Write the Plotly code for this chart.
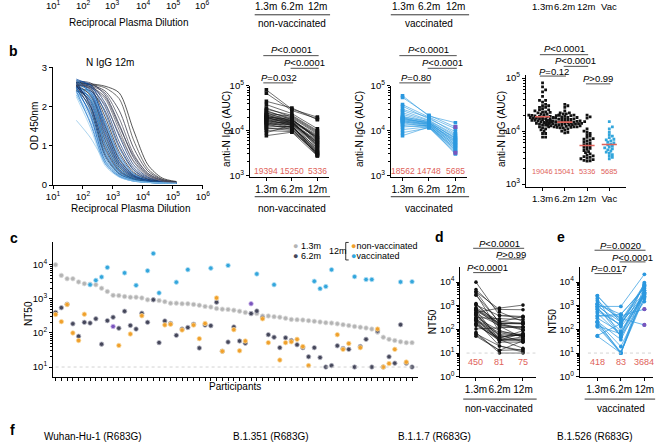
import numpy as np
import plotly.graph_objects as go

W, H = 668, 443
FONT = "Liberation Sans, Arial, sans-serif"
NARROW = "Liberation Sans Narrow, Arial Narrow, Liberation Sans, sans-serif"

# ----------------------------- DATA -----------------------------
# panel b (left): N IgG ELISA curves at 12 months
dilutions = [60, 180, 540, 1620, 4860, 14580, 43740, 131220]
od_curves = [
    [2.62, 2.58, 2.52, 2.35, 1.40, 0.52, 0.18, 0.09],
    [2.58, 2.56, 2.48, 2.20, 1.15, 0.42, 0.15, 0.08],
    [2.60, 2.55, 2.40, 1.90, 0.95, 0.36, 0.14, 0.08],
    [2.55, 2.52, 2.35, 1.70, 0.80, 0.30, 0.12, 0.07],
    [2.65, 2.60, 2.30, 1.55, 0.70, 0.26, 0.11, 0.07],
    [2.50, 2.48, 2.20, 1.40, 0.60, 0.22, 0.10, 0.06],
    [2.62, 2.55, 2.10, 1.25, 0.52, 0.20, 0.09, 0.06],
    [2.58, 2.50, 2.00, 1.10, 0.45, 0.18, 0.09, 0.06],
    [2.45, 2.40, 1.90, 1.00, 0.40, 0.16, 0.08, 0.06],
    [2.66, 2.55, 1.85, 0.95, 0.38, 0.15, 0.08, 0.05],
    [2.55, 2.45, 1.75, 0.85, 0.33, 0.14, 0.08, 0.05],
    [2.60, 2.42, 1.65, 0.78, 0.30, 0.13, 0.07, 0.05],
    [2.48, 2.35, 1.60, 0.72, 0.28, 0.12, 0.07, 0.05],
    [2.70, 2.50, 1.55, 0.68, 0.26, 0.12, 0.07, 0.05],
    [2.52, 2.30, 1.50, 0.65, 0.25, 0.11, 0.07, 0.05],
    [2.58, 2.38, 1.45, 0.60, 0.24, 0.11, 0.07, 0.05],
    [2.40, 2.25, 1.40, 0.58, 0.23, 0.11, 0.06, 0.05],
    [2.62, 2.35, 1.35, 0.55, 0.22, 0.10, 0.06, 0.05],
    [2.55, 2.28, 1.30, 0.52, 0.21, 0.10, 0.06, 0.05],
    [2.50, 2.20, 1.25, 0.50, 0.20, 0.10, 0.06, 0.05],
    [2.68, 2.30, 1.20, 0.48, 0.19, 0.09, 0.06, 0.05],
    [2.45, 2.15, 1.15, 0.45, 0.18, 0.09, 0.06, 0.05],
    [2.58, 2.20, 1.10, 0.42, 0.17, 0.09, 0.06, 0.05],
    [2.52, 2.10, 1.05, 0.40, 0.16, 0.08, 0.06, 0.05],
    [2.60, 2.15, 1.00, 0.38, 0.16, 0.08, 0.06, 0.05],
    [2.42, 2.00, 0.95, 0.36, 0.15, 0.08, 0.06, 0.05],
    [2.55, 2.05, 0.90, 0.34, 0.14, 0.08, 0.06, 0.05],
    [2.48, 1.95, 0.85, 0.32, 0.14, 0.08, 0.05, 0.05],
    [2.62, 2.00, 0.80, 0.30, 0.13, 0.08, 0.05, 0.05],
    [2.38, 1.85, 0.78, 0.30, 0.13, 0.07, 0.05, 0.05],
    [2.55, 1.90, 0.75, 0.28, 0.12, 0.07, 0.05, 0.05],
    [2.45, 1.80, 0.70, 0.27, 0.12, 0.07, 0.05, 0.05],
    [2.35, 1.70, 0.65, 0.25, 0.11, 0.07, 0.05, 0.05],
    [2.50, 1.75, 0.62, 0.24, 0.11, 0.07, 0.05, 0.05],
    [2.30, 1.60, 0.58, 0.22, 0.10, 0.07, 0.05, 0.05],
    [2.40, 1.55, 0.55, 0.21, 0.10, 0.07, 0.05, 0.05],
    [2.25, 1.45, 0.50, 0.20, 0.10, 0.06, 0.05, 0.05],
    [2.60, 2.45, 2.05, 1.30, 0.62, 0.25, 0.10, 0.06],
    [2.55, 2.50, 2.25, 1.50, 0.75, 0.30, 0.12, 0.07],
    [1.65, 1.20, 0.60, 0.25, 0.12, 0.07, 0.05, 0.05],
]

# panel b: anti-N IgG AUC, non-vaccinated (1.3m, 6.2m, 12m)
nv_auc_13m = [81000, 68000, 45000, 38000, 32000, 30000, 28000, 26500, 25000, 24000,
              23000, 22500, 22000, 21000, 20500, 20000, 19800, 19394, 19000, 18500,
              18000, 17500, 17000, 16500, 16000, 15500, 15000, 14500, 14000, 13500,
              13000, 12000, 11500, 11000, 10000, 9000, 7700]
nv_auc_62m = [30000, 28000, 32000, 24000, 20000, 22000, 17500, 19000, 16000, 21000,
              18500, 14800, 17000, 15800, 16800, 13500, 18000, 15250, 14500, 16500,
              12800, 15500, 13200, 14200, 12000, 15000, 11500, 13800, 10500, 14000,
              11800, 12500, 10000, 11000, 9500, 13000, 9200]
nv_auc_12m = [20000, 18500, 17500, 11000, 9000, 10000, 6500, 8500, 7600, 9500,
              6200, 5100, 7200, 4700, 8000, 3900, 6800, 5336, 5700, 4300,
              3300, 7000, 3000, 5500, 4100, 6000, 2900, 4500, 3400, 4900,
              3700, 3500, 3100, 2800, 3200, 2750, 2700]
# vaccinated
v_auc_13m = [60000, 55000, 38000, 35000, 30000, 28000, 25000, 23000, 21000, 20000,
             19500, 19000, 18562, 18000, 17500, 17000, 16500, 16000, 15500, 15000,
             14000, 13000, 12000, 10500, 9000, 7700]
v_auc_62m = [21000, 22000, 20000, 18000, 19500, 17000, 16500, 15500, 15000, 16000,
             14500, 14000, 14748, 13500, 15200, 13000, 14000, 12500, 13800, 12000,
             12800, 11800, 13200, 12200, 11500, 12000]
v_auc_12m = [15000, 12000, 11000, 9500, 8500, 8000, 7500, 7000, 6800, 6500,
             6200, 6000, 5685, 5500, 5200, 5000, 4800, 4600, 4400, 4200,
             4000, 3800, 3600, 3400, 3200, 3000]
v_auc_special = [1, 24]   # participants drawn in purple at 12m

# panel c/d/e: NT50 per participant (sorted by 1.3m NT50)
nt50_13m = [10000, 4900, 3900, 3900, 3150, 2800, 2700, 2600, 2050, 1650,
            1270, 1250, 1170, 1120, 1120, 1070, 940, 940, 890, 830,
            750, 750, 720, 720, 690, 650, 600, 575, 520, 500,
            490, 465, 435, 400, 372, 372, 315, 315, 300, 290,
            270, 250, 245, 240, 230, 220, 210, 200, 195, 185,
            175, 165, 155, 148, 140, 130, 105, 75, 65, 60,
            55, 52, 52]
nt50_62m = [400, 550, 700, 185, 80, 205, 195, 260, 47, 230,
            290, 138, 435, 166, 130, 380, 205, 940, 52, 225,
            190, 85, 130, 145, 180, 36, 170, 163, 800, 29,
            54, 150, 58, 50, 370, 440, 280, 89, 75, 37,
            72, 60, 45, 37, 20, 37, 19, 10, 11, 42,
            35, 33, 10, 40, 65, 10, 115, 10, 20, 13,
            175, 13, 10]
nt50_12m = [350, 215, 680, 100, 60, 355, 2600, 3500, 4400, 8400,
            155, 43, 5800, 93, 2500, 320, 6700, 21500, 1500, 172,
            180, 3100, 122, 7200, 170, 68, 190, 8000, 1070, 29,
            9600, 125, 30, 58, 720, 5400, 260, 52, 2600, 16,
            52, 55, 65, 40, 11, 3300, 2000, 2300, 7200, 89,
            33, 49, 4500, 37, 3700, 3700, 130, 10, 12.6, 33,
            3150, 14, 3200]
# N = non-vaccinated, V = vaccinated, P = vaccinated (purple)
vacc_status = ["N", "N", "N", "N", "N", "N", "V", "V", "V", "V",
               "P", "N", "V", "N", "V", "N", "V", "V", "V", "N",
               "N", "V", "N", "V", "N", "N", "N", "V", "N", "N",
               "V", "N", "N", "N", "P", "V", "N", "N", "V", "N",
               "N", "N", "N", "N", "N", "V", "V", "V", "V", "N",
               "N", "N", "V", "N", "V", "V", "N", "N", "N", "N",
               "V", "N", "V"]

time_labels = ["1.3m", "6.2m", "12m"]
b4_labels = ["1.3m", "6.2m", "12m", "Vac"]
b2_medians = ["19394", "15250", "5336"]
b3_medians = ["18562", "14748", "5685"]
b4_medians = ["19046", "15041", "5336", "5685"]
d_medians = ["450", "81", "75"]
e_medians = ["418", "83", "3684"]
variant_labels = ["Wuhan-Hu-1 (R683G)", "B.1.351 (R683G)", "B.1.1.7 (R683G)", "B.1.526 (R683G)"]

# ----------------------------- STYLE -----------------------------
BLACK = "#111111"
BLUE = "#2b98df"
RED = "#e0625a"
ORANGE = "#f0a02c"
DARK = "#45475a"
GRAY = "#b4b4b4"
PURPLE = "#7a55bd"
C_BLUE = "#33a6dc"
TXT = 10

curve_colors = ["#1a1a1a", "#3c3c3c", "#2a2a3a", "#4e4e5e", "#232b46", "#5a5a6a", "#0d2f6b",
                "#1b3f80", "#333344", "#1454a8", "#222222", "#0b3d91", "#3b9ae0", "#164f9e",
                "#2a2a3a", "#1f6fc5", "#0d2f6b", "#2770c0", "#444455", "#12408a", "#3a8fd6",
                "#1a1a2a", "#4aa3e3", "#0e3a7e", "#2b7fd0", "#333333", "#174a98", "#3795dc",
                "#0b2a5b", "#5aaee8", "#1f2f55", "#2a85d6", "#7cc0ee", "#1454a8", "#4aa3e3",
                "#2f7acb", "#9dd0f0", "#666677", "#444455", "#8cc4e8"]


def px(p):
    return p / W


def py(p):
    return 1 - p / H


def ann(x, y, text, size=TXT, color="black", xanchor="center", yanchor="middle",
        angle=0, xref="paper", family=FONT):
    xv = px(x) if xref == "paper" else x
    return dict(x=xv, y=py(y), xref=xref, yref="paper", text=text, showarrow=False,
                font=dict(size=size, color=color, family=family),
                xanchor=xanchor, yanchor=yanchor, textangle=angle)


def hline(x0, x1, y, xref="paper", width=0.8, color="black", dash=None):
    if xref == "paper":
        x0, x1 = px(x0), px(x1)
    ln = dict(color=color, width=width)
    if dash:
        ln["dash"] = dash
    return dict(type="line", xref=xref, yref="paper", x0=x0, x1=x1, y0=py(y), y1=py(y), line=ln)


def sup(k):
    return "10<sup>%d</sup>" % k


def minor_vals(lo, hi):
    return [m * 10 ** k for k in range(lo, hi) for m in range(2, 10)]


base_axis = dict(showgrid=False, zeroline=False, showline=True, linecolor="black",
                 linewidth=1, ticks="outside", ticklen=3, tickwidth=1, tickcolor="black",
                 tickfont=dict(size=9.5, family=FONT, color="black"), fixedrange=True,
                 tickangle=0)


def logy(domain_px, rng, anchor, lo, hi):
    d = dict(base_axis)
    d.update(type="log", range=rng, domain=[py(domain_px[1]), py(domain_px[0])], anchor=anchor,
             tickvals=[10 ** k for k in range(lo, hi + 1)], ticktext=[sup(k) for k in range(lo, hi + 1)],
             minor=dict(tickvals=minor_vals(lo, hi), ticks="outside", ticklen=2,
                        tickcolor="black", tickwidth=0.8, showgrid=False))
    return d


def catx(domain_px, rng, anchor, labels, size=10):
    d = dict(base_axis)
    d.update(range=rng, domain=[px(domain_px[0]), px(domain_px[1])], anchor=anchor,
             tickvals=list(range(len(labels))), ticktext=labels,
             tickfont=dict(size=size, family=FONT, color="black"))
    return d


def swarm_offsets(vals, px_per_dec, px_per_unit, d=2.6):
    ys = np.log10(np.asarray(vals, float)) * px_per_dec
    order = np.argsort(ys)
    placed = []
    off = np.zeros(len(ys))
    step = d * 0.6
    for i in order:
        y = ys[i]
        k = 0
        while True:
            cands = [0.0] if k == 0 else [k * step, -k * step]
            found = None
            for c in cands:
                if all((c - a) ** 2 + (y - b) ** 2 >= d * d for a, b in placed):
                    found = c
                    break
            if found is not None:
                off[i] = found
                placed.append((found, y))
                break
            k += 1
    return off / px_per_unit


def paired(v1, v2, v3):
    xs, ys = [], []
    for a, b, c in zip(v1, v2, v3):
        xs += [0, 1, 2, None]
        ys += [a, b, c, None]
    return xs, ys


fig = go.Figure()

# ---------------- b1: ELISA curves ----------------
for k, curve in enumerate(od_curves):
    fig.add_trace(go.Scatter(x=dilutions, y=curve, mode="lines", xaxis="x", yaxis="y",
                             line=dict(color=curve_colors[k % len(curve_colors)], width=0.8,
                                       shape="spline", smoothing=0.8),
                             opacity=0.9, showlegend=False, hoverinfo="skip"))

# ---------------- b2: non-vaccinated AUC ----------------
xs, ys = paired(nv_auc_13m, nv_auc_62m, nv_auc_12m)
fig.add_trace(go.Scatter(x=xs, y=ys, mode="lines+markers", xaxis="x2", yaxis="y2",
                         line=dict(color=BLACK, width=0.6),
                         marker=dict(color=BLACK, size=3.6, symbol="square"),
                         showlegend=False, hoverinfo="skip"))

# ---------------- b3: vaccinated AUC ----------------
xs, ys = paired(v_auc_13m, v_auc_62m, v_auc_12m)
fig.add_trace(go.Scatter(x=xs, y=ys, mode="lines+markers", xaxis="x3", yaxis="y3",
                         line=dict(color=BLUE, width=0.6),
                         marker=dict(color=BLUE, size=3.6, symbol="square"),
                         showlegend=False, hoverinfo="skip"))
fig.add_trace(go.Scatter(x=[2] * len(v_auc_special), y=[v_auc_12m[i] for i in v_auc_special],
                         mode="markers", xaxis="x3", yaxis="y3",
                         marker=dict(color=PURPLE, size=4, symbol="square"),
                         showlegend=False, hoverinfo="skip"))

# ---------------- b4: scatter of AUC ----------------
b4_groups = [nv_auc_13m + v_auc_13m, nv_auc_62m + v_auc_62m, nv_auc_12m, v_auc_12m]
b4_colors = [BLACK, BLACK, BLACK, C_BLUE]
B4_PPU = (632 - 530) / (3.74 + 0.749)
for g, (vals, col) in enumerate(zip(b4_groups, b4_colors)):
    off = swarm_offsets(vals, 54.5, B4_PPU)
    fig.add_trace(go.Scatter(x=g + off, y=vals, mode="markers", xaxis="x4", yaxis="y4",
                             marker=dict(color=col, size=2.8, symbol="square"),
                             showlegend=False, hoverinfo="skip"))
    med = float(np.median(vals))
    fig.add_trace(go.Scatter(x=[g - 0.34, g + 0.34], y=[med, med], mode="lines",
                             xaxis="x4", yaxis="y4", line=dict(color=RED, width=1.6),
                             showlegend=False, hoverinfo="skip"))

# ---------------- c: NT50 per participant ----------------
idx = list(range(len(nt50_13m)))
fig.add_trace(go.Scatter(x=idx, y=nt50_13m, mode="markers", xaxis="x5", yaxis="y5",
                         marker=dict(color=GRAY, size=4.5, line=dict(color="#dcdcdc", width=0.8)),
                         showlegend=False, hoverinfo="skip"))
fig.add_trace(go.Scatter(x=idx, y=nt50_62m, mode="markers", xaxis="x5", yaxis="y5",
                         marker=dict(color=DARK, size=4.5, line=dict(color="#b8b8c4", width=0.8)),
                         showlegend=False, hoverinfo="skip"))
status_color = {"N": ORANGE, "V": C_BLUE, "P": PURPLE}
status_halo = {"N": "#f9d9a0", "V": "#b5e0f4", "P": "#cbb8ea"}
fig.add_trace(go.Scatter(x=idx, y=nt50_12m, mode="markers", xaxis="x5", yaxis="y5",
                         marker=dict(color=[status_color[s] for s in vacc_status], size=4.5,
                                     line=dict(color=[status_halo[s] for s in vacc_status], width=0.8)),
                         showlegend=False, hoverinfo="skip"))

# ---------------- d / e: paired NT50 ----------------
nv_idx = [i for i, s in enumerate(vacc_status) if s == "N"]
v_idx = [i for i, s in enumerate(vacc_status) if s != "N"]
xs, ys = paired([nt50_13m[i] for i in nv_idx], [nt50_62m[i] for i in nv_idx], [nt50_12m[i] for i in nv_idx])
fig.add_trace(go.Scatter(x=xs, y=ys, mode="lines+markers", xaxis="x6", yaxis="y6",
                         line=dict(color=BLACK, width=0.6),
                         marker=dict(color=BLACK, size=3.6),
                         showlegend=False, hoverinfo="skip"))
xs, ys = paired([nt50_13m[i] for i in v_idx], [nt50_62m[i] for i in v_idx], [nt50_12m[i] for i in v_idx])
fig.add_trace(go.Scatter(x=xs, y=ys, mode="lines+markers", xaxis="x7", yaxis="y7",
                         line=dict(color=BLUE, width=0.7),
                         marker=dict(color=BLUE, size=3.8),
                         showlegend=False, hoverinfo="skip"))
p_idx = [i for i, s in enumerate(vacc_status) if s == "P"]
fig.add_trace(go.Scatter(x=[2] * len(p_idx), y=[nt50_12m[i] for i in p_idx], mode="markers",
                         xaxis="x7", yaxis="y7", marker=dict(color=PURPLE, size=4.2),
                         showlegend=False, hoverinfo="skip"))

# ----------------------------- AXES -----------------------------
layout = dict(width=W, height=H, margin=dict(l=0, r=0, t=0, b=0),
              paper_bgcolor="white", plot_bgcolor="white", showlegend=False,
              font=dict(family=FONT, size=TXT, color="black"))

# b1
ax = dict(base_axis)
ax.update(type="log", range=[1, 6], domain=[px(47), px(200)], anchor="y",
          tickvals=[10 ** k for k in range(1, 7)], ticktext=[sup(k) for k in range(1, 7)])
layout["xaxis"] = ax
ay = dict(base_axis)
ay.update(range=[0, 3], domain=[py(183), py(62)], anchor="x", tickvals=[0, 1, 2, 3])
layout["yaxis"] = ay

# b2, b3
layout["xaxis2"] = catx((248, 329), [-0.65, 2.46], "y2", time_labels)
layout["yaxis2"] = logy((81, 174.4), [2.97, 5.0], "x2", 3, 5)
layout["xaxis3"] = catx((392, 470), [-0.444, 2.444], "y3", time_labels)
layout["yaxis3"] = logy((81, 174.4), [2.97, 5.0], "x3", 3, 5)
# b4
layout["xaxis4"] = catx((530, 632), [-0.749, 3.74], "y4", b4_labels, size=9.5)
layout["yaxis4"] = logy((70.3, 184.7), [2.95, 5.05], "x4", 3, 5)
# c
axc = dict(base_axis)
axc.update(range=[-0.45, 63.07], domain=[px(47), px(420)], anchor="y5",
           tickvals=idx, showticklabels=False, ticklen=3)
layout["xaxis5"] = axc
layout["yaxis5"] = logy((241.9, 380.2), [0.71, 4.66], "x5", 1, 4)
# d, e
layout["xaxis6"] = catx((463, 540), [-0.667, 2.54], "y6", time_labels)
layout["yaxis6"] = logy((267, 380), [0, 4.65], "x6", 0, 4)
layout["xaxis7"] = catx((585, 660), [-0.75, 2.375], "y7", time_labels)
layout["yaxis7"] = logy((267, 380), [0, 4.65], "x7", 0, 4)

shapes = []
annots = []

# detection-limit dotted lines
for xr, yr, x1 in [("x5", "y5", 63.07), ("x6", "y6", 2.54), ("x7", "y7", 2.375)]:
    shapes.append(dict(type="line", xref=xr, yref=yr, x0=-0.4 if xr != "x5" else 0, x1=x1,
                       y0=10, y1=10, line=dict(color="#c8c8c8", width=0.8, dash="dot")))

# ---------------- top strip (panel a remnants) ----------------
for k, xp in zip(range(1, 7), [47, 78, 108, 139, 170, 200]):
    annots.append(ann(xp, -2, sup(k), size=9.5))
annots.append(ann(125, 16, "Reciprocal Plasma Dilution", size=TXT))
for k, lab in enumerate(time_labels):
    annots.append(ann(265 + 26 * k, -1, lab, size=TXT))
    annots.append(ann(404 + 27 * k, -1, lab, size=TXT))
for k, lab in enumerate(b4_labels):
    annots.append(ann(547 + 22.7 * k, -1, lab, size=9.5))
shapes.append(hline(253, 330, 8))
shapes.append(hline(392, 472, 8))
annots.append(ann(291, 17, "non-vaccinated", size=TXT))
annots.append(ann(431, 17, "vaccinated", size=TXT))

# ---------------- panel labels ----------------
for lab, x, y in [("b", 7, 45), ("c", 7, 237), ("d", 442, 236), ("e", 566, 236), ("f", 6, 435)]:
    annots.append(ann(x, y, "<b>%s</b>" % lab, size=14))

# ---------------- b texts ----------------
annots.append(ann(105, 57, "N IgG 12m", size=TXT))
annots.append(ann(127, 207, "Reciprocal Plasma Dilution", size=TXT))
annots.append(ann(28, 122, "OD 450nm", size=TXT, angle=-90))
for xp in (224, 360, 505):
    annots.append(ann(xp, 125, "anti-N IgG (AUC)", size=TXT, angle=-90))

for k, m in enumerate(b2_medians):
    annots.append(ann(k, 169, m, size=8.5, color=RED, xref="x2"))
for k, m in enumerate(b3_medians):
    annots.append(ann(k, 169, m, size=8.5, color=RED, xref="x3"))
for k, m in enumerate(b4_medians):
    annots.append(ann(k, 169, m, size=7.4, color=RED, xref="x4", family=NARROW))
for k, m in enumerate(d_medians):
    annots.append(ann(k, 365, m, size=9, color=RED, xref="x6"))
for k, m in enumerate(e_medians):
    annots.append(ann(k, 365, m, size=9, color=RED, xref="x7"))

shapes.append(hline(253, 330, 195))
annots.append(ann(291, 207, "non-vaccinated", size=TXT))
shapes.append(hline(392, 472, 195))
annots.append(ann(431, 207, "vaccinated", size=TXT))
shapes.append(hline(466, 541, 403))
annots.append(ann(503, 413, "non-vaccinated", size=TXT))
shapes.append(hline(590, 662, 403))
annots.append(ann(627, 413, "vaccinated", size=TXT))


def pval(xref, a, b, ytext, yline, text):
    annots.append(ann((a + b) / 2, ytext, text, size=9.5, xref=xref))
    shapes.append(hline(a - 0.12 if a == 0 else a - 0.05, b + 0.05, yline, xref=xref, width=0.7))


LT, GT = "&lt;", "&gt;"
pval("x2", 0, 2, 44, 50, "<i>P</i>%s0.0001" % LT)
pval("x2", 1, 2, 57, 63, "<i>P</i>%s0.0001" % LT)
pval("x2", 0, 1, 72, 78, "<i>P</i>=0.032")
pval("x3", 0, 2, 44, 50, "<i>P</i>%s0.0001" % LT)
pval("x3", 1, 2, 57, 63, "<i>P</i>%s0.0001" % LT)
pval("x3", 0, 1, 72, 78, "<i>P</i>=0.80")
pval("x4", 0, 2, 43, 49, "<i>P</i>%s0.0001" % LT)
pval("x4", 1, 2, 55, 61, "<i>P</i>%s0.0001" % LT)
pval("x4", 0, 1, 66, 71, "<i>P</i>=0.12")
pval("x4", 2, 3, 74, 79, "<i>P</i>%s0.99" % GT)
pval("x6", 0, 2, 243, 248, "<i>P</i>%s0.0001" % LT)
pval("x6", 1, 2, 254, 259, "<i>P</i>%s0.99" % GT)
pval("x6", 0, 1, 268, 273, "<i>P</i>%s0.0001" % LT)
pval("x7", 0, 2, 245, 250, "<i>P</i>=0.0020")
pval("x7", 1, 2, 257, 262, "<i>P</i>%s0.0001" % LT)
pval("x7", 0, 1, 269, 274, "<i>P</i>=0.017")

# ---------------- c texts & legend ----------------
annots.append(ann(22, 315, "NT50", size=TXT, angle=-90))
annots.append(ann(233, 390, "Participants", size=TXT))
annots.append(ann(434, 323, "NT50", size=TXT, angle=-90))
annots.append(ann(557, 323, "NT50", size=TXT, angle=-90))
LG = 9
annots.append(ann(290, 245.5, "<span style='color:%s'>●</span> 1.3m" % GRAY, size=LG, xanchor="left"))
annots.append(ann(290, 256, "<span style='color:%s'>●</span> 6.2m" % DARK, size=LG, xanchor="left"))
annots.append(ann(327, 251, "12m", size=LG, xanchor="left"))
annots.append(ann(349, 245.5, "<span style='color:%s'>●</span>non-vaccinated" % ORANGE, size=LG, xanchor="left"))
annots.append(ann(349, 256, "<span style='color:%s'>●</span>vaccinated" % C_BLUE, size=LG, xanchor="left"))
shapes.append(dict(type="path", xref="paper", yref="paper",
                   path="M %f %f L %f %f L %f %f L %f %f" % (px(349), py(242), px(346), py(242),
                                                             px(346), py(260), px(349), py(260)),
                   line=dict(color="black", width=0.8)))

# ---------------- f labels ----------------
for lab, xp in zip(variant_labels, [88, 270, 437, 601]):
    annots.append(ann(xp, 441, lab, size=TXT))

layout["shapes"] = shapes
layout["annotations"] = annots
fig.update_layout(**layout)
fig.write_html("out.html", config={"displayModeBar": False},
               post_script="document.body.style.margin='0px';document.body.style.padding='0px';")
